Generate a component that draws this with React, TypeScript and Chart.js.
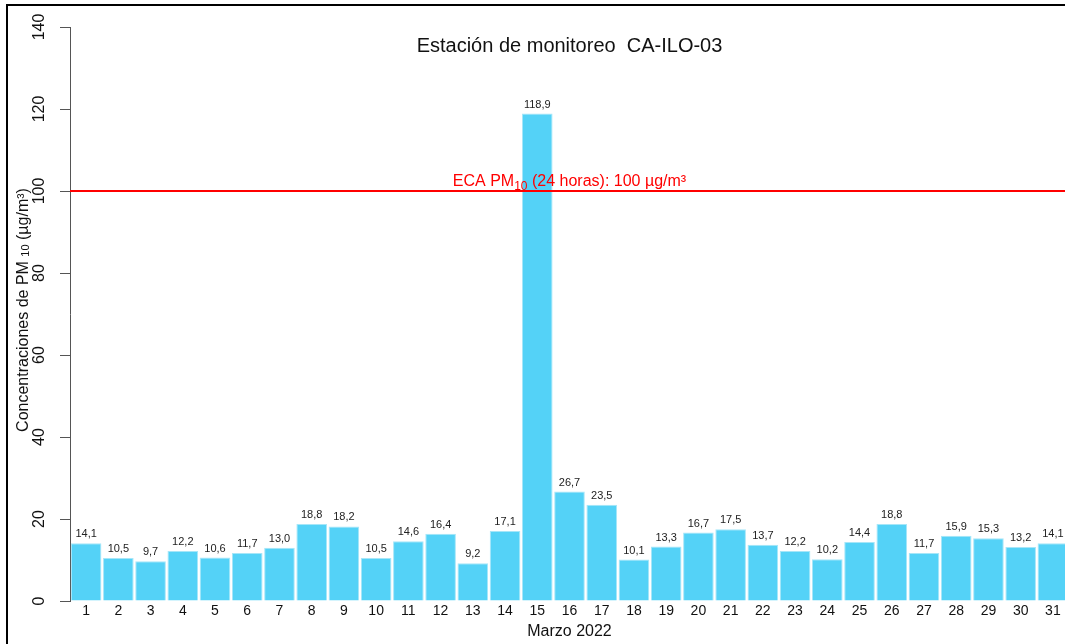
import React, { useEffect, useRef } from "react";
import { Chart, registerables } from "chart.js";

Chart.register(...registerables);

const days: string[] = Array.from({ length: 31 }, (_, i) => String(i + 1));
const pm10Values: number[] = [
  14.1, 10.5, 9.7, 12.2, 10.6, 11.7, 13.0, 18.8, 18.2, 10.5, 14.6, 16.4, 9.2, 17.1, 118.9,
  26.7, 23.5, 10.1, 13.3, 16.7, 17.5, 13.7, 12.2, 10.2, 14.4, 18.8, 11.7, 15.9, 15.3, 13.2, 14.1,
];
const ecaLimit = 100;
const yMin = 0;
const yMax = 140;
const yStep = 20;
const titleText = "Estación de monitoreo  CA-ILO-03";
const xTitle = "Marzo 2022";

const FONT = "'Liberation Sans', Arial, Helvetica, sans-serif";

const decorPlugin = {
  id: "decor",
  afterDatasetsDraw(chart: any) {
    const ctx: CanvasRenderingContext2D = chart.ctx;
    const area = chart.chartArea;
    const ys = chart.scales.y;
    const cx = (area.left + area.right) / 2;
    ctx.save();

    // ECA line
    const yl = ys.getPixelForValue(ecaLimit);
    ctx.strokeStyle = "#FF0000";
    ctx.lineWidth = 2;
    ctx.beginPath();
    ctx.moveTo(area.left, yl);
    ctx.lineTo(chart.width, yl);
    ctx.stroke();

    // ECA label with subscript
    const p1 = "ECA PM";
    const sub = "10";
    const p2 = " (24 horas): 100 µg/m³";
    ctx.fillStyle = "#FF0000";
    ctx.textBaseline = "alphabetic";
    ctx.textAlign = "left";
    ctx.font = `16px ${FONT}`;
    const w1 = ctx.measureText(p1).width;
    const w3 = ctx.measureText(p2).width;
    ctx.font = `12px ${FONT}`;
    const w2 = ctx.measureText(sub).width;
    const total = w1 + w2 + w3;
    let x0 = cx - total / 2;
    const base = yl - 5;
    ctx.font = `16px ${FONT}`;
    ctx.fillText(p1, x0, base);
    ctx.font = `12px ${FONT}`;
    ctx.fillText(sub, x0 + w1, base + 4);
    ctx.font = `16px ${FONT}`;
    ctx.fillText(p2, x0 + w1 + w2, base);

    // value labels
    const meta = chart.getDatasetMeta(0);
    ctx.fillStyle = "#222";
    ctx.font = `11px ${FONT}`;
    ctx.textAlign = "center";
    ctx.textBaseline = "middle";
    meta.data.forEach((bar: any, i: number) => {
      const v = pm10Values[i];
      ctx.fillText(v.toFixed(1).replace(".", ","), bar.x, bar.y - 9);
    });

    // x tick labels
    ctx.fillStyle = "#111";
    ctx.font = `14px ${FONT}`;
    meta.data.forEach((bar: any, i: number) => {
      ctx.fillText(days[i], bar.x, 611);
    });

    // y tick labels (rotated)
    ctx.font = `16px ${FONT}`;
    ys.ticks.forEach((t: any) => {
      const y = ys.getPixelForValue(t.value);
      ctx.save();
      ctx.translate(40, y);
      ctx.rotate(-Math.PI / 2);
      ctx.textAlign = "center";
      ctx.textBaseline = "middle";
      ctx.fillText(String(t.value), 0, 0);
      ctx.restore();
    });

    // title
    ctx.fillStyle = "#111";
    ctx.font = `20px ${FONT}`;
    ctx.textAlign = "center";
    ctx.textBaseline = "middle";
    ctx.fillText(titleText, cx, 46);

    // x title
    ctx.font = `16px ${FONT}`;
    ctx.fillText(xTitle, cx, 632);

    // y title rotated with subscript
    const a1 = "Concentraciones de PM ";
    const a2 = "10";
    const a3 = " (µg/m³)";
    ctx.font = `16px ${FONT}`;
    const b1 = ctx.measureText(a1).width;
    const b3 = ctx.measureText(a3).width;
    ctx.font = `11px ${FONT}`;
    const b2 = ctx.measureText(a2).width;
    const tw = b1 + b2 + b3;
    ctx.save();
    ctx.translate(28, (area.top + area.bottom) / 2 - 4);
    ctx.rotate(-Math.PI / 2);
    ctx.textAlign = "left";
    ctx.textBaseline = "alphabetic";
    let sx = -tw / 2;
    ctx.font = `16px ${FONT}`;
    ctx.fillText(a1, sx, 0);
    ctx.font = `11px ${FONT}`;
    ctx.fillText(a2, sx + b1, 1);
    ctx.font = `16px ${FONT}`;
    ctx.fillText(a3, sx + b1 + b2, 0);
    ctx.restore();

    ctx.restore();
  },
};

export default function App() {
  const ref = useRef<HTMLCanvasElement | null>(null);
  useEffect(() => {
    if (!ref.current) return;
    const chart = new Chart(ref.current, {
      type: "bar",
      data: {
        labels: days,
        datasets: [
          {
            data: pm10Values,
            backgroundColor: "#54D2F7",
            borderColor: "#A6E6F8",
            borderWidth: 1,
            borderSkipped: "bottom",
            barPercentage: 0.95,
            categoryPercentage: 1,
          },
        ],
      },
      options: {
        responsive: false,
        animation: false,
        devicePixelRatio: 1,
        layout: { padding: { left: 70, top: 27, right: 11, bottom: 43 } },
        plugins: { legend: { display: false }, tooltip: { enabled: false }, title: { display: false } },
        scales: {
          x: { display: false, offset: true },
          y: {
            min: yMin,
            max: yMax,
            ticks: { stepSize: yStep, display: false },
            grid: { drawOnChartArea: false, drawTicks: true, tickLength: 10, color: "#555", lineWidth: 1 },
            border: { display: true, color: "#555", width: 1 },
            afterFit: (s: any) => {
              s.width = 0;
            },
          },
        },
      },
      plugins: [decorPlugin],
    });
    return () => chart.destroy();
  }, []);

  return (
    <div style={{ position: "fixed", left: 0, top: 0, width: 1065, height: 644, overflow: "hidden", background: "#fff" }}>
      <div
        style={{
          position: "absolute",
          left: 6,
          top: 4,
          width: 2000,
          height: 2000,
          border: "2px solid #000",
          boxSizing: "border-box",
        }}
      />
      <canvas ref={ref} width={1080} height={644} style={{ position: "absolute", left: 0, top: 0, width: 1080, height: 644 }} />
    </div>
  );
}
